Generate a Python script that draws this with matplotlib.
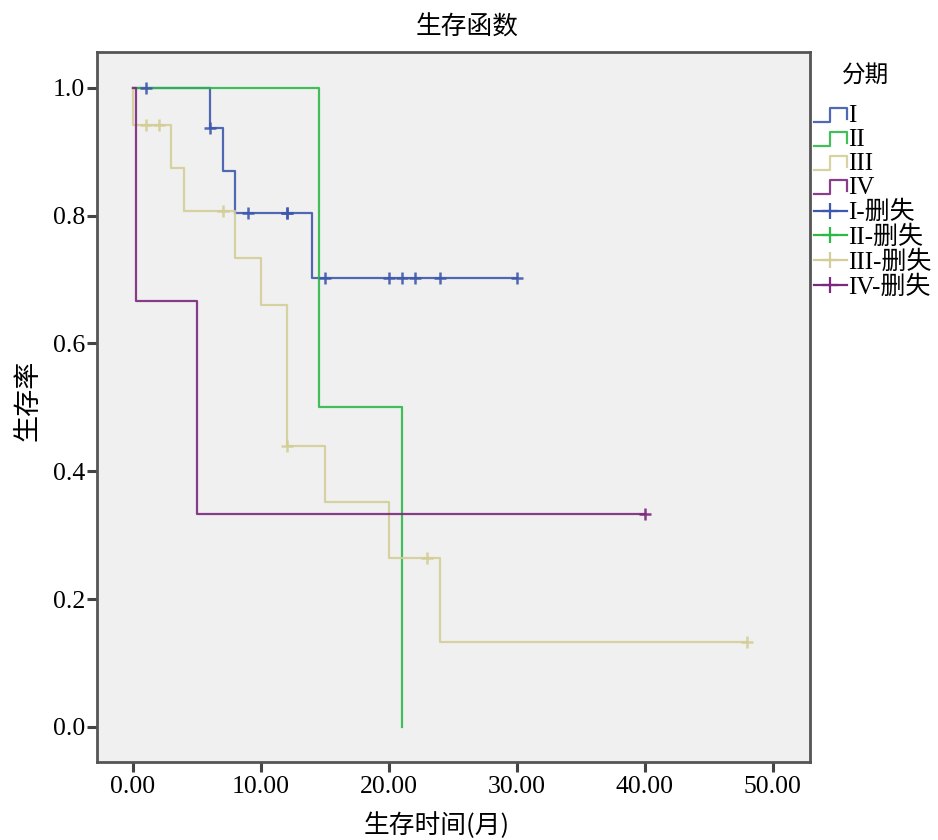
import numpy as np
import matplotlib
matplotlib.use("Agg")
import matplotlib.pyplot as plt
from matplotlib.lines import Line2D
from matplotlib.legend_handler import HandlerBase

plt.rcParams['font.family'] = ['Liberation Serif', 'Noto Sans CJK SC', 'DejaVu Sans']

# ---------------- data ----------------
group_names = ["I", "II", "III", "IV"]
censor_names = ["I-删失", "II-删失", "III-删失", "IV-删失"]

# step curves (time, survival) -- drawn as post steps
I_t = [0, 6, 7, 8, 14, 30]
I_s = [1.0, 0.9375, 0.8705, 0.8036, 0.7031, 0.7031]
II_t = [0, 14.5, 21]
II_s = [1.0, 0.5, 0.0]
III_t = [0, 0, 3, 4, 8, 10, 12, 15, 20, 24, 48]
III_s = [1.0, 0.9412, 0.8739, 0.8067, 0.7334, 0.6600, 0.4400, 0.3520, 0.2640, 0.1320, 0.1320]
IV_t = [0, 0.2, 5, 40]
IV_s = [1.0, 0.6667, 0.3333, 0.3333]

# censored observations
I_ct = [1, 6, 9, 12, 12, 15, 20, 21, 22, 24, 30]
I_cs = [1.0, 0.9375, 0.8036, 0.8036, 0.8036, 0.7031, 0.7031, 0.7031, 0.7031, 0.7031, 0.7031]
II_ct = []
II_cs = []
III_ct = [1, 2, 7, 12, 23, 48]
III_cs = [0.9412, 0.9412, 0.8067, 0.4400, 0.2640, 0.1320]
IV_ct = [40]
IV_cs = [0.3333]

x_ticks = [0, 10, 20, 30, 40, 50]
y_ticks = [0.0, 0.2, 0.4, 0.6, 0.8, 1.0]

colors = ["#3E58AC", "#2EB848", "#D3CE97", "#7C287D"]

curves = [(I_t, I_s), (II_t, II_s), (III_t, III_s), (IV_t, IV_s)]
censors = [(I_ct, I_cs), (II_ct, II_cs), (III_ct, III_cs), (IV_ct, IV_cs)]

# ---------------- figure ----------------
fig = plt.figure(figsize=(9.38, 8.4), dpi=100)
ax = fig.add_axes([97 / 938, 1 - 762 / 840, (810 - 97) / 938, (762 - 52) / 840])
ax.set_facecolor("#f0f0f0")

lw = 1.6
step_handles = []
for (t, s), c, name in zip(curves, colors, group_names):
    ln, = ax.plot(t, s, drawstyle="steps-post", color=c, lw=lw, alpha=0.9, label=name)
    step_handles.append(ln)

cens_handles = []
for (t, s), c, name in zip(censors, colors, censor_names):
    if len(t):
        ax.plot(t, s, linestyle="none", marker="+", markersize=8, markeredgewidth=1.8,
                color=c, alpha=0.9)
    cens_handles.append(Line2D([], [], color=c, lw=lw, marker="+", markersize=12,
                               markeredgewidth=1.6, label=name))

ax.set_xlim(-2.81, 52.9)
ax.set_ylim(-0.055, 1.056)
ax.set_xticks(x_ticks)
ax.set_xticklabels([f"{v:.2f}" for v in x_ticks])
ax.set_yticks(y_ticks)
ax.set_yticklabels([f"{v:.1f}" for v in y_ticks])
ax.tick_params(axis="both", direction="out", length=7.5, width=2.2, color="#444444",
               labelsize=18.5, labelcolor="black")
ax.tick_params(axis="x", pad=2.5)
ax.tick_params(axis="y", pad=1.0)

for sp in ax.spines.values():
    sp.set_color("#555555")
    sp.set_linewidth(2.0)

ax.set_xlabel("生存时间(月)", fontsize=18.5, family=['Noto Sans CJK SC'])
ax.xaxis.label.set_va("center")
ax.xaxis.set_label_coords((437 - 97) / 713, (762 - 826) / 710)
ax.set_ylabel("生存率", fontsize=19.5, family=['Noto Sans CJK SC'])
ax.yaxis.label.set_va("center")
ax.yaxis.set_label_coords((28 - 97) / 713, (762 - 400) / 710)

fig.text(467 / 938, 1 - 28 / 840, "生存函数", ha="center", va="center", fontsize=18.5,
         family=['Noto Sans CJK SC'])


class StepHandler(HandlerBase):
    def create_artists(self, legend, orig_handle, xdescent, ydescent, width, height,
                       fontsize, trans):
        fx = np.array([0.0, 0.5, 0.5, 1.0, 1.0])
        fy = np.array([0.05, 0.05, 0.85, 0.85, 0.2])
        line = Line2D(-xdescent + fx * width, -ydescent + fy * height,
                      color=orig_handle.get_color(), lw=lw, alpha=0.9, transform=trans)
        return [line]


# legend title
fig.text(866 / 938, 1 - 75 / 840, "分期", ha="center", va="center", fontsize=17,
         family=['Noto Sans CJK SC'])

handler_map = {h: StepHandler() for h in step_handles}
leg = fig.legend(step_handles + cens_handles, group_names + censor_names,
                 handler_map=handler_map, loc="upper left",
                 bbox_to_anchor=(814 / 938, 1 - 105 / 840), frameon=False,
                 prop={"size": 18, "family": ['Liberation Serif', 'Noto Sans CJK SC']},
                 handlelength=1.3, handletextpad=0.05, labelspacing=0.06,
                 borderaxespad=0, borderpad=0.0)

fig.savefig("out.png", dpi=100)
